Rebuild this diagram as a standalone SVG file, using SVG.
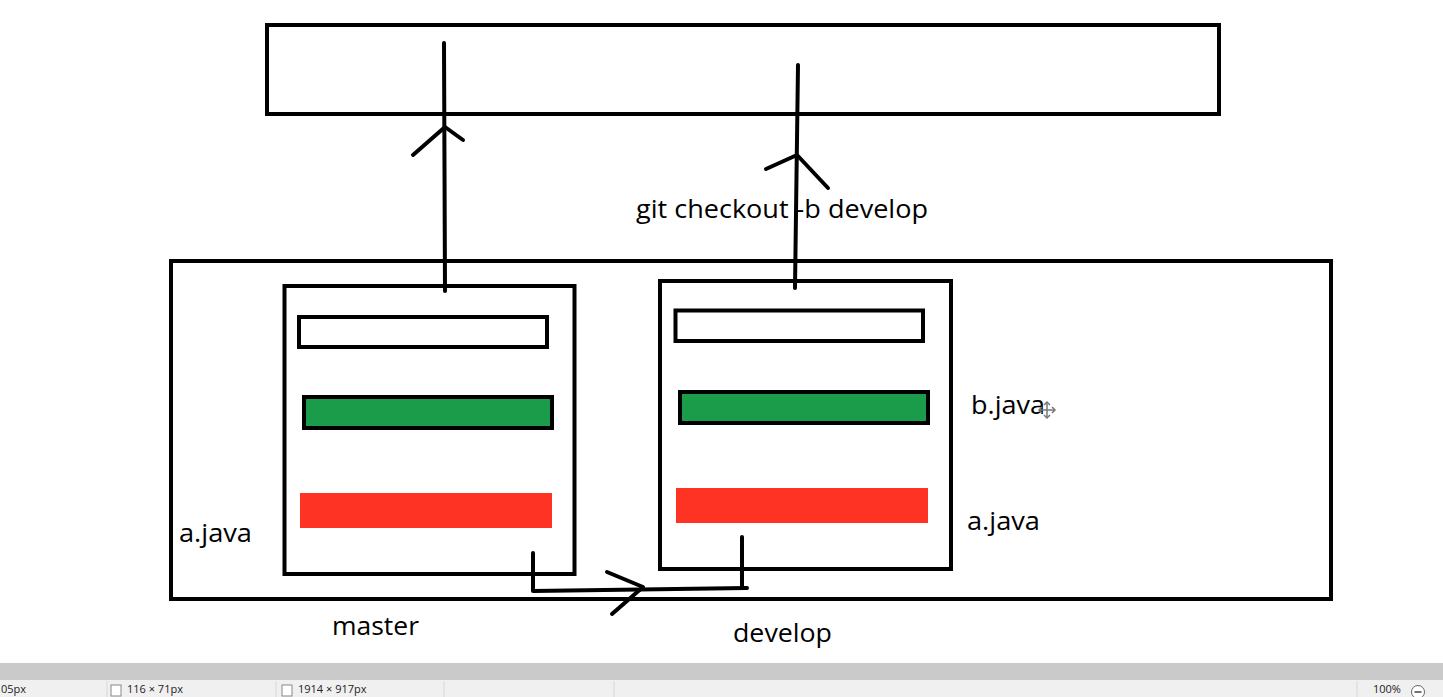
<svg xmlns="http://www.w3.org/2000/svg" width="1443" height="697" viewBox="0 0 1443 697">
<style>
.box{fill:none;stroke:#000;stroke-width:4}
.wbar{fill:#fff;stroke:#000;stroke-width:4}
.gbar{fill:#1b9c4a;stroke:#000;stroke-width:4}
.rbar{fill:#ff3324;stroke:none}
.line{fill:none;stroke:#000;stroke-width:4;stroke-linecap:round;stroke-linejoin:round}
.lbl{font-family:"Open Sans","Noto Sans",sans-serif;font-size:26px;fill:#000}
.sb{font-family:"Open Sans","Noto Sans",sans-serif;font-size:11px;fill:#222}
</style>
<rect width="1443" height="697" fill="#fff"/>
<g id="remote"><rect class="box" x="267" y="25" width="952" height="89"/></g>
<g id="local"><rect class="box" x="171" y="261" width="1160" height="338"/></g>
<g id="master">
<rect class="box" x="284.5" y="286" width="290" height="288"/>
<rect class="wbar" x="299" y="317" width="248" height="30"/>
<rect class="gbar" x="304" y="397" width="248" height="31"/>
<rect class="rbar" x="300" y="493" width="252" height="35"/>
</g>
<g id="develop">
<rect class="box" x="660" y="281" width="291" height="288"/>
<rect class="wbar" x="675.5" y="310.5" width="247.5" height="30.5"/>
<rect class="gbar" x="680" y="392" width="248" height="31"/>
<rect class="rbar" x="676" y="488" width="252" height="35"/>
</g>
<g id="connectors">
<path class="line" d="M445 291 L444 43"/>
<path class="line" d="M413 155 L445 127 L463 140"/>
<path class="line" d="M795 288 L798 65"/>
<path class="line" d="M766 169 L797 155 L828 188"/>
<path class="line" d="M533 553 L533 591 L747 588"/>
<path class="line" d="M742 537 L742 588"/>
<path class="line" d="M607 572 L643 587 L612 614"/>
</g>
<g id="labels">
<text class="lbl" x="636" y="218" textLength="292" lengthAdjust="spacingAndGlyphs">git checkout -b develop</text>
<text class="lbl" x="971" y="414" textLength="74" lengthAdjust="spacingAndGlyphs">b.java</text>
<text class="lbl" x="967" y="530" textLength="73" lengthAdjust="spacingAndGlyphs">a.java</text>
<text class="lbl" x="179" y="542" textLength="73" lengthAdjust="spacingAndGlyphs">a.java</text>
<text class="lbl" x="332" y="635" textLength="87" lengthAdjust="spacingAndGlyphs">master</text>
<text class="lbl" x="733" y="642" textLength="99" lengthAdjust="spacingAndGlyphs">develop</text>
</g>
<g id="cursor" fill="none" stroke="#777" stroke-width="1.5">
<path d="M1047 402 L1047 418 M1039 410 L1055 410"/>
<path d="M1044 405 L1047 402 L1050 405 M1044 415 L1047 418 L1050 415 M1042 407 L1039 410 L1042 413 M1052 407 L1055 410 L1052 413"/>
</g>
<g id="statusbar">
<rect x="0" y="663" width="1443" height="17" fill="#cacaca"/>
<rect x="0" y="680" width="1443" height="17" fill="#f0f0f0"/>
<path d="M107 681 V697 M276 681 V697 M444 681 V697 M614 681 V697 M1357 681 V697" stroke="#d8d8d8" stroke-width="1"/>
<rect x="111" y="685" width="10" height="11" fill="#fff" stroke="#888" stroke-width="1"/>
<rect x="282" y="685" width="10" height="11" fill="#fff" stroke="#888" stroke-width="1"/>
<text class="sb" x="1" y="693">05px</text>
<text class="sb" x="127" y="693">116 × 71px</text>
<text class="sb" x="298" y="693">1914 × 917px</text>
<text class="sb" x="1373" y="693">100%</text>
<circle cx="1418" cy="692" r="6.5" fill="#fff" stroke="#666" stroke-width="1"/>
<path d="M1414.5 692 H1421.5" stroke="#444" stroke-width="1.5"/>
</g>
</svg>
